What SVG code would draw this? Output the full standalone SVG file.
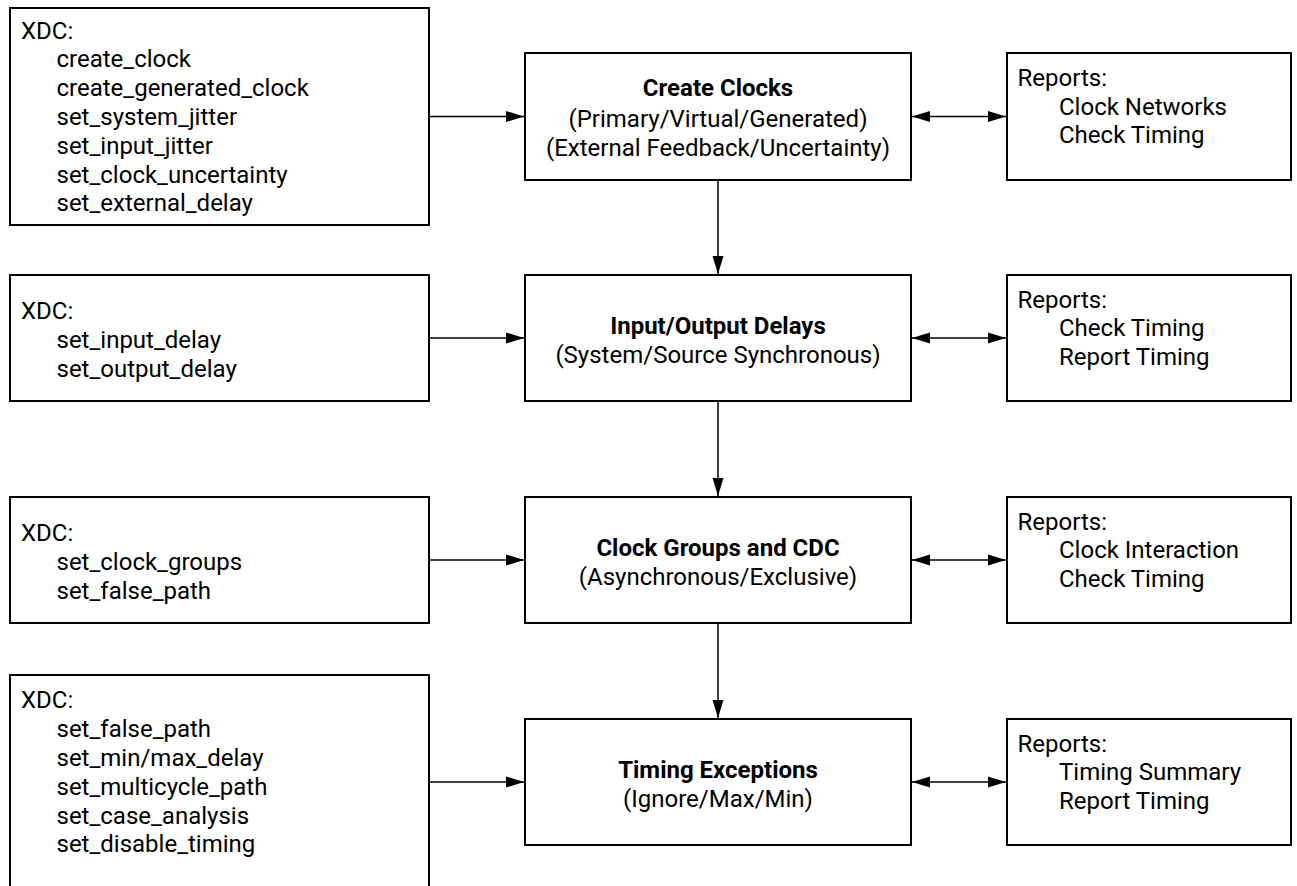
<svg xmlns="http://www.w3.org/2000/svg" width="1297" height="886" viewBox="0 0 1297 886">
  <style>
    .box { fill: #ffffff; stroke: #000000; stroke-width: 2; }
    .t { font-family: Roboto, "Liberation Sans", sans-serif; font-size: 24px; fill: #000000; }
    .b { font-weight: 700; }
    .c { text-anchor: middle; }
    .ln { fill: none; stroke: #000000; stroke-width: 1.5; }
  </style>
  <defs>
    <marker id="ah" viewBox="0 0 18 12" refX="18" refY="6" markerWidth="18" markerHeight="12" markerUnits="userSpaceOnUse" orient="auto-start-reverse">
      <path d="M0,0.5 L18,6 L0,11.5 z" fill="#000000"/>
    </marker>
  </defs>
  <rect width="1297" height="886" fill="#ffffff"/>

  <g id="connectors">
    <line class="ln" x1="429" y1="116.5" x2="524" y2="116.5" marker-end="url(#ah)"/>
    <line class="ln" x1="429" y1="338" x2="524" y2="338" marker-end="url(#ah)"/>
    <line class="ln" x1="429" y1="560" x2="524" y2="560" marker-end="url(#ah)"/>
    <line class="ln" x1="429" y1="782" x2="524" y2="782" marker-end="url(#ah)"/>
    <line class="ln" x1="718" y1="180" x2="718" y2="274" marker-end="url(#ah)"/>
    <line class="ln" x1="718" y1="401" x2="718" y2="496" marker-end="url(#ah)"/>
    <line class="ln" x1="718" y1="623" x2="718" y2="718" marker-end="url(#ah)"/>
    <line class="ln" x1="912" y1="116.5" x2="1006" y2="116.5" marker-start="url(#ah)" marker-end="url(#ah)"/>
    <line class="ln" x1="912" y1="338" x2="1006" y2="338" marker-start="url(#ah)" marker-end="url(#ah)"/>
    <line class="ln" x1="912" y1="560" x2="1006" y2="560" marker-start="url(#ah)" marker-end="url(#ah)"/>
    <line class="ln" x1="912" y1="782" x2="1006" y2="782" marker-start="url(#ah)" marker-end="url(#ah)"/>
  </g>

  <g id="xdc1">
    <rect class="box" x="10" y="8" width="419" height="217"/>
    <text class="t" x="21" y="38.5">XDC:</text>
    <text class="t" x="56.5" y="67.3">create_clock</text>
    <text class="t" x="56.5" y="96.1">create_generated_clock</text>
    <text class="t" x="56.5" y="124.9">set_system_jitter</text>
    <text class="t" x="56.5" y="153.7">set_input_jitter</text>
    <text class="t" x="56.5" y="182.5">set_clock_uncertainty</text>
    <text class="t" x="56.5" y="211.3">set_external_delay</text>
  </g>
  <g id="create-clocks">
    <rect class="box" x="525" y="53" width="386" height="127"/>
    <text class="t b c" x="718" y="96">Create Clocks</text>
    <text class="t c" x="718" y="127">(Primary/Virtual/Generated)</text>
    <text class="t c" x="718" y="155.6">(External Feedback/Uncertainty)</text>
  </g>
  <g id="reports1">
    <rect class="box" x="1007" y="53" width="284" height="127"/>
    <text class="t" x="1017.5" y="85.7">Reports:</text>
    <text class="t" x="1059" y="114.5">Clock Networks</text>
    <text class="t" x="1059" y="143.3">Check Timing</text>
  </g>

  <g id="xdc2">
    <rect class="box" x="10" y="275" width="419" height="126"/>
    <text class="t" x="21" y="319">XDC:</text>
    <text class="t" x="56.5" y="347.8">set_input_delay</text>
    <text class="t" x="56.5" y="376.6">set_output_delay</text>
  </g>
  <g id="io-delays">
    <rect class="box" x="525" y="275" width="386" height="126"/>
    <text class="t b c" x="718" y="333.9">Input/Output Delays</text>
    <text class="t c" x="718" y="362.7">(System/Source Synchronous)</text>
  </g>
  <g id="reports2">
    <rect class="box" x="1007" y="275" width="284" height="126"/>
    <text class="t" x="1017.5" y="307.5">Reports:</text>
    <text class="t" x="1059" y="336.3">Check Timing</text>
    <text class="t" x="1059" y="365.1">Report Timing</text>
  </g>

  <g id="xdc3">
    <rect class="box" x="10" y="497" width="419" height="126"/>
    <text class="t" x="21" y="541">XDC:</text>
    <text class="t" x="56.5" y="569.8">set_clock_groups</text>
    <text class="t" x="56.5" y="598.6">set_false_path</text>
  </g>
  <g id="clock-groups">
    <rect class="box" x="525" y="497" width="386" height="126"/>
    <text class="t b c" x="718" y="555.9">Clock Groups and CDC</text>
    <text class="t c" x="718" y="584.7">(Asynchronous/Exclusive)</text>
  </g>
  <g id="reports3">
    <rect class="box" x="1007" y="497" width="284" height="126"/>
    <text class="t" x="1017.5" y="529.5">Reports:</text>
    <text class="t" x="1059" y="558.3">Clock Interaction</text>
    <text class="t" x="1059" y="587.1">Check Timing</text>
  </g>

  <g id="xdc4">
    <rect class="box" x="10" y="675" width="419" height="214"/>
    <text class="t" x="21" y="708.3">XDC:</text>
    <text class="t" x="56.5" y="737.1">set_false_path</text>
    <text class="t" x="56.5" y="765.9">set_min/max_delay</text>
    <text class="t" x="56.5" y="794.7">set_multicycle_path</text>
    <text class="t" x="56.5" y="823.5">set_case_analysis</text>
    <text class="t" x="56.5" y="852.3">set_disable_timing</text>
  </g>
  <g id="timing-exceptions">
    <rect class="box" x="525" y="719" width="386" height="126"/>
    <text class="t b c" x="718" y="777.9">Timing Exceptions</text>
    <text class="t c" x="718" y="806.7">(Ignore/Max/Min)</text>
  </g>
  <g id="reports4">
    <rect class="box" x="1007" y="719" width="284" height="126"/>
    <text class="t" x="1017.5" y="751.5">Reports:</text>
    <text class="t" x="1059" y="780.3">Timing Summary</text>
    <text class="t" x="1059" y="809.1">Report Timing</text>
  </g>
</svg>
